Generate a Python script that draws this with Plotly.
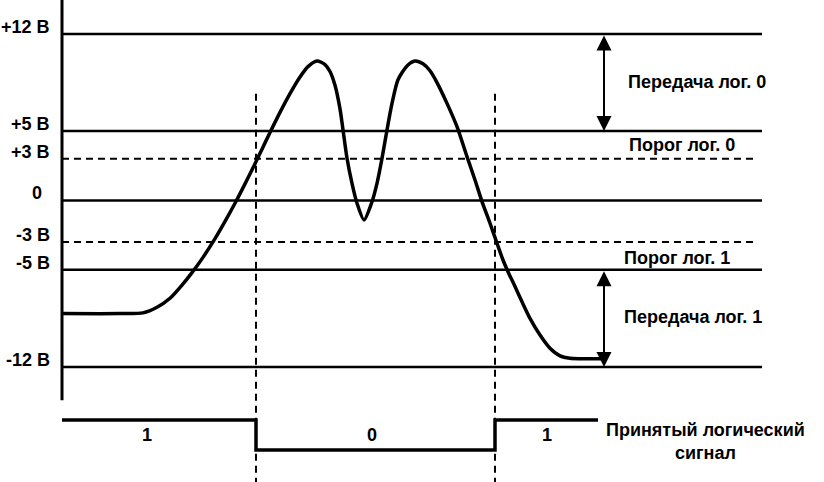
import plotly.graph_objects as go

# ---- data ----
levels_solid = [12, 5, 0, -5, -12]
levels_dashed = [3, -3]
level_label_values = [12, 5, 3, 0, -3, -5, -12]
level_labels = ["+12 В", "+5 В", "+3 В", "0", "-3 В", "-5 В", "-12 В"]
level_label_xshift = [0, 0, 0, -8, 0, 0, 0]

signal_t = [62, 120, 143, 157, 170, 182, 192, 203, 215, 227, 235, 245, 255, 262, 270, 280,
            290, 300, 308, 317, 325, 330, 335, 340, 343, 347, 352, 357, 364, 371.5, 377, 382, 387,
            392, 398, 407, 415, 423, 430, 437, 447, 457, 467, 475, 482, 490, 497, 503, 508, 515,
            522, 530, 540, 550, 560, 570, 580, 603]
signal_v = [-8.15, -8.15, -8.1, -7.7, -7.05, -6.1, -5.2, -4.1, -2.75, -1.25, -0.2, 1.2, 2.65, 3.7, 4.9, 6.35,
            7.7, 8.9, 9.65, 10.05, 9.8, 9.3, 8.3, 6.6, 5.1, 3.04, 1.24, -0.2, -1.4, -0.2, 1.24, 3.04, 5.08,
            7.0, 8.7, 9.7, 10.05, 9.85, 9.35, 8.5, 7.0, 5.32, 3.16, 1.48, -0.08, -1.64, -3.08, -4.29, -5.13, -6.2,
            -7.3, -8.5, -9.7, -10.65, -11.2, -11.37, -11.4, -11.4]

logic_t = [62, 256, 256, 495, 495, 598]
logic_v = [1, 1, 0, 0, 1, 1]
logic_label_t = [147, 372, 547]
logic_labels = ["1", "0", "1"]

boundary_t = [256, 495]

zone_texts = ["Передача лог. 0", "Порог лог. 0", "Порог лог. 1", "Передача лог. 1"]
zone_text_v = [8.55, 4.0, -4.15, -8.4]
zone_text_t = [626, 627, 622, 622]

arrow_ranges = [(12, 5), (-5, -12)]

# ---- layout constants ----
T0, T1 = 62, 762
ARROW_T = 604
FONT = "Liberation Sans"
FS = 18
V_TOP, V_BOT = 14.45, -20.29

fig = go.Figure()

# level lines
for v in levels_solid:
    fig.add_trace(go.Scatter(x=[T0, T1], y=[v, v], mode="lines",
                             line=dict(color="black", width=2.5), hoverinfo="skip"))
for v in levels_dashed:
    fig.add_trace(go.Scatter(x=[T0, T1 - 4], y=[v, v], mode="lines",
                             line=dict(color="black", width=2, dash="7px,5px"), hoverinfo="skip"))

# vertical axis line
fig.add_trace(go.Scatter(x=[T0, T0], y=[V_TOP, -14.4], mode="lines",
                         line=dict(color="black", width=3), hoverinfo="skip"))

# boundary dashed verticals
for t in boundary_t:
    fig.add_trace(go.Scatter(x=[t, t], y=[7.7, V_BOT], mode="lines",
                             line=dict(color="black", width=2, dash="7px,5px"), hoverinfo="skip"))

# signal
fig.add_trace(go.Scatter(x=signal_t, y=signal_v, mode="lines",
                         line=dict(color="black", width=3.5, shape="spline", smoothing=0.7),
                         hoverinfo="skip"))

# logic signal
fig.add_trace(go.Scatter(x=logic_t, y=logic_v, mode="lines", yaxis="y2",
                         line=dict(color="black", width=3.5), hoverinfo="skip"))

ann = []
for v, lab, xs in zip(level_label_values, level_labels, level_label_xshift):
    ann.append(dict(x=52, y=v, text=f"<b>{lab}</b>", showarrow=False, xanchor="right",
                    yanchor="middle", yshift=7, xshift=xs,
                    font=dict(family=FONT, size=FS, color="black")))
for t, lab in zip(logic_label_t, logic_labels):
    ann.append(dict(x=t, y=0.5, yref="y2", text=f"<b>{lab}</b>", showarrow=False,
                    xanchor="center", yanchor="middle",
                    font=dict(family=FONT, size=FS, color="black")))
for t, v, txt in zip(zone_text_t, zone_text_v, zone_texts):
    ann.append(dict(x=t, y=v, text=f"<b>{txt}</b>", showarrow=False, xanchor="left",
                    yanchor="middle", font=dict(family=FONT, size=FS, color="black")))
ann.append(dict(x=705, y=0.3, yref="y2", text="<b>Принятый логический<br>сигнал</b>",
                showarrow=False, xanchor="center", yanchor="middle", align="center",
                font=dict(family=FONT, size=FS, color="black")))
for a, b in arrow_ranges:
    ann.append(dict(x=ARROW_T, y=b, ax=ARROW_T, ay=a, xref="x", yref="y", axref="x", ayref="y",
                    text="", showarrow=True, arrowhead=2, startarrowhead=2,
                    arrowside="end+start", arrowwidth=2, arrowsize=1.5, startarrowsize=1.5,
                    arrowcolor="black"))

fig.update_layout(
    width=824, height=482,
    margin=dict(l=0, r=0, t=0, b=0),
    paper_bgcolor="white", plot_bgcolor="white",
    showlegend=False,
    xaxis=dict(range=[0, 824], visible=False, fixedrange=True),
    yaxis=dict(range=[V_BOT, V_TOP], visible=False, fixedrange=True),
    yaxis2=dict(range=[-1.0667, 15], overlaying="y", visible=False, fixedrange=True),
    annotations=ann,
)

fig.write_html("out.html")
